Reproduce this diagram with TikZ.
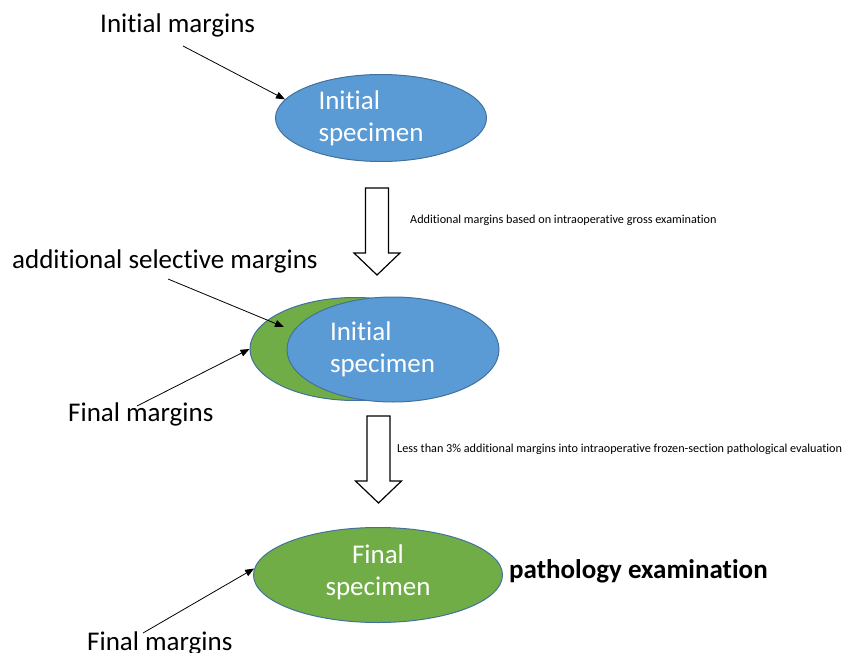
\documentclass[tikz,border=0pt]{standalone}
\usepackage{fontspec}
\setmainfont{Carlito}[RawFeature={-liga;-clig;-dlig;-calt}]
\usetikzlibrary{shapes.geometric,arrows.meta}
\definecolor{specblue}{HTML}{5B9BD5}
\definecolor{specgreen}{HTML}{70AD47}
\definecolor{rimblue}{HTML}{41719C}
\tikzset{
  specimen/.style = {shape=ellipse, draw=rimblue, line width=1pt,
                     inner sep=0pt, text=white,
                     font=\fontsize{27}{32}\selectfont},
  initspec/.style = {specimen, fill=specblue, align=left, text width=125pt},
  finalspec/.style= {specimen, fill=specgreen, align=center},
  label/.style    = {inner sep=0pt, anchor=base west,
                     font=\fontsize{27}{32}\selectfont},
  note/.style     = {inner sep=0pt, anchor=base west,
                     font=\fontsize{12.2}{14}\selectfont},
  pointer/.style  = {draw, line width=0.8pt, -{Triangle[length=9pt,width=7pt]}},
  downarrow/.pic  = {\draw[line width=1.2pt, fill=white, line join=miter]
                       (-11.5,0) -- (11.5,0) -- (11.5,65) -- (23,65)
                       -- (0,87) -- (-23,65) -- (-11.5,65) -- cycle;}
}

\begin{document}
\begin{tikzpicture}[x=1pt, y=-1pt]
  \useasboundingbox (0,0) rectangle (847,653);

  % first stage
  \node [initspec, minimum width=211pt, minimum height=87pt] (init) at (381,118) {Initial\\specimen};
  \node [label] (initmarg) at (100,32) {Initial margins};
  \coordinate (initfrom) at (183,46);
  \draw [pointer] (initfrom) -- (init.169);

  \pic at (377,188) {downarrow};
  \node [note] (gross) at (410,223) {Additional margins based on intraoperative gross examination};

  % second stage
  \node [finalspec, minimum width=210pt, minimum height=103pt] (margin) at (355,349) {};
  \node [initspec, minimum width=212pt, minimum height=105pt, text width=126pt] (init2) at (393,349.5) {Initial\\specimen};
  \node [label] (selmarg) at (12,268) {additional selective margins};
  \coordinate (selfrom) at (168,279);
  \coordinate (seltip) at (284,327);
  \draw [pointer] (selfrom) -- (seltip);
  \node [label] (finmarg) at (68,421) {Final margins};
  \coordinate (finfrom) at (137,406);
  \draw [pointer] (finfrom) -- (margin.west);

  \pic at (378.5,416) {downarrow};
  \node [note] (frozen) at (397,452) {Less than 3\% additional margins into intraoperative frozen-section pathological evaluation};

  % third stage
  \node [finalspec, minimum width=249pt, minimum height=95pt] (final) at (378,575) {Final\\specimen\\[-22pt]};
  \node [label, font=\fontsize{27}{32}\selectfont\bfseries] (patho) at (509,578) {pathology examination};
  \node [label] (finmarg2) at (87,650) {Final margins};
  \coordinate (fin2from) at (143,633);
  \draw [pointer] (fin2from) -- (final.177);

\end{tikzpicture}
\end{document}
